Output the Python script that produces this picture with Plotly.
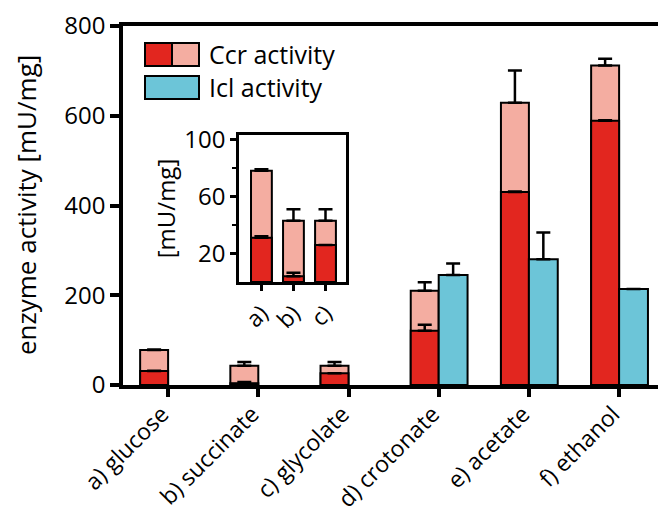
import plotly.graph_objects as go

categories = ["a) glucose", "b) succinate", "c) glycolate", "d) crotonate", "e) acetate", "f) ethanol"]
ccr_total = [78, 43, 43, 210, 629, 712]
ccr_total_err = [1, 8, 8, 19, 72, 15]
ccr_part = [31, 4, 26, 121, 430, 589]
ccr_part_err = [1, 2.5, 0, 13, 1, 1]
icl = [0, 0, 0, 245, 280, 214]
icl_err = [0, 0, 0, 26, 60, 0]

inset_labels = ["a)", "b)", "c)"]

RED = "#E2261F"
PINK = "#F4ADA1"
BLUE = "#6CC5D8"
FONT = "Open Sans"

W, H = 666, 517
L, R, T, B = 115, 8, 18, 140
PW, PH = W - L - R, H - T - B

def px(x):
    return (x - L) / PW

def py(y):
    return (H - B - y) / PH

xs = list(range(len(categories)))
icl_shown = [v if v > 0 else None for v in icl]
fig = go.Figure()

line = dict(color="black", width=2)

def err(arr):
    return dict(type="data", array=arr, arrayminus=[0] * len(arr), symmetric=False,
                color="black", thickness=2.5, width=7)

fig.add_trace(go.Bar(x=xs, y=ccr_total, width=0.31, offset=-0.31, marker=dict(color=PINK, line=line),
                     error_y=err(ccr_total_err), showlegend=False))
fig.add_trace(go.Bar(x=xs, y=ccr_part, width=0.31, offset=-0.31, marker=dict(color=RED, line=line),
                     error_y=err(ccr_part_err), showlegend=False))
fig.add_trace(go.Bar(x=xs, y=icl_shown, width=0.32, offset=0, marker=dict(color=BLUE, line=line),
                     error_y=err(icl_err), showlegend=False))

# inset
ix = list(range(3))
fig.add_trace(go.Bar(x=ix, y=ccr_total[:3], width=0.65, marker=dict(color=PINK, line=line),
                     error_y=err(ccr_total_err[:3]), xaxis="x2", yaxis="y2", showlegend=False))
fig.add_trace(go.Bar(x=ix, y=ccr_part[:3], width=0.65, marker=dict(color=RED, line=line),
                     error_y=err(ccr_part_err[:3]), xaxis="x2", yaxis="y2", showlegend=False))

def tf(size):
    return dict(family=FONT, size=size, color="black")

fig.update_layout(
    width=W, height=H, margin=dict(l=L, r=R, t=T, b=B, autoexpand=False),
    plot_bgcolor="white", paper_bgcolor="white", barmode="overlay",
    font=dict(family=FONT, color="black"),
    xaxis=dict(range=[-0.5, 5.52], tickmode="array", tickvals=xs, ticktext=categories,
               tickangle=-45, tickfont=tf(23), showline=True, linecolor="black", linewidth=3.5,
               mirror=True, ticks="outside", ticklen=8, tickwidth=3.5, tickcolor="black",
               ticklabeloverflow="allow", ticklabelstandoff=-5, ticklabelshift=-6,
               showgrid=False, zeroline=False, automargin=False),
    yaxis=dict(range=[0, 800], tickvals=[0, 200, 400, 600, 800], tickfont=tf(24),
               showline=True, linecolor="black", linewidth=3.5, mirror=True,
               ticks="outside", ticklen=9, tickwidth=3.5, tickcolor="black",
               ticklabeloverflow="allow",
               showgrid=False, zeroline=False, automargin=False),
    xaxis2=dict(domain=[px(231), px(338)], anchor="y2", range=[-0.7, 2.64], tickmode="array",
                tickvals=ix, ticktext=inset_labels, tickangle=-45, tickfont=tf(23),
                showline=True, linecolor="black", linewidth=2.5, mirror=True, ticks="outside",
                ticklen=6, tickwidth=2.5, tickcolor="black", showgrid=False, zeroline=False,
                ticklabeloverflow="allow"),
    yaxis2=dict(domain=[py(274), py(127)], anchor="x2", range=[0, 103], tickvals=[20, 60, 100],
                tickfont=tf(24), showline=True, linecolor="black", linewidth=2.5, mirror=True,
                ticks="outside", ticklen=6, tickwidth=2.5, tickcolor="black",
                minor=dict(tickvals=[40, 80], ticks="outside", ticklen=4, tickwidth=2, tickcolor="black"),
                showgrid=False, zeroline=False, ticklabeloverflow="allow",
                title=dict(text="[mU/mg]", font=tf(24), standoff=2)),
)

# legend (drawn)
shapes = [
    dict(type="rect", xref="paper", yref="paper", x0=px(137), x1=px(164), y0=py(58), y1=py(35),
         fillcolor=RED, line=dict(color="black", width=2)),
    dict(type="rect", xref="paper", yref="paper", x0=px(164), x1=px(191), y0=py(58), y1=py(35),
         fillcolor=PINK, line=dict(color="black", width=2)),
    dict(type="rect", xref="paper", yref="paper", x0=px(137), x1=px(191), y0=py(91), y1=py(68),
         fillcolor=BLUE, line=dict(color="black", width=2)),
]
fig.update_layout(shapes=shapes)
fig.add_annotation(xref="paper", yref="paper", x=px(199), y=py(46), text="Ccr activity", showarrow=False,
                   xanchor="left", yanchor="middle", font=tf(25))
fig.add_annotation(xref="paper", yref="paper", x=px(199), y=py(79), text="Icl activity", showarrow=False,
                   xanchor="left", yanchor="middle", font=tf(25))
fig.add_annotation(xref="paper", yref="paper", x=px(18), y=py(197), text="enzyme activity [mU/mg]",
                   textangle=-90, showarrow=False, xanchor="center", yanchor="middle",
                   font=tf(26))

fig.write_html("out.html")
